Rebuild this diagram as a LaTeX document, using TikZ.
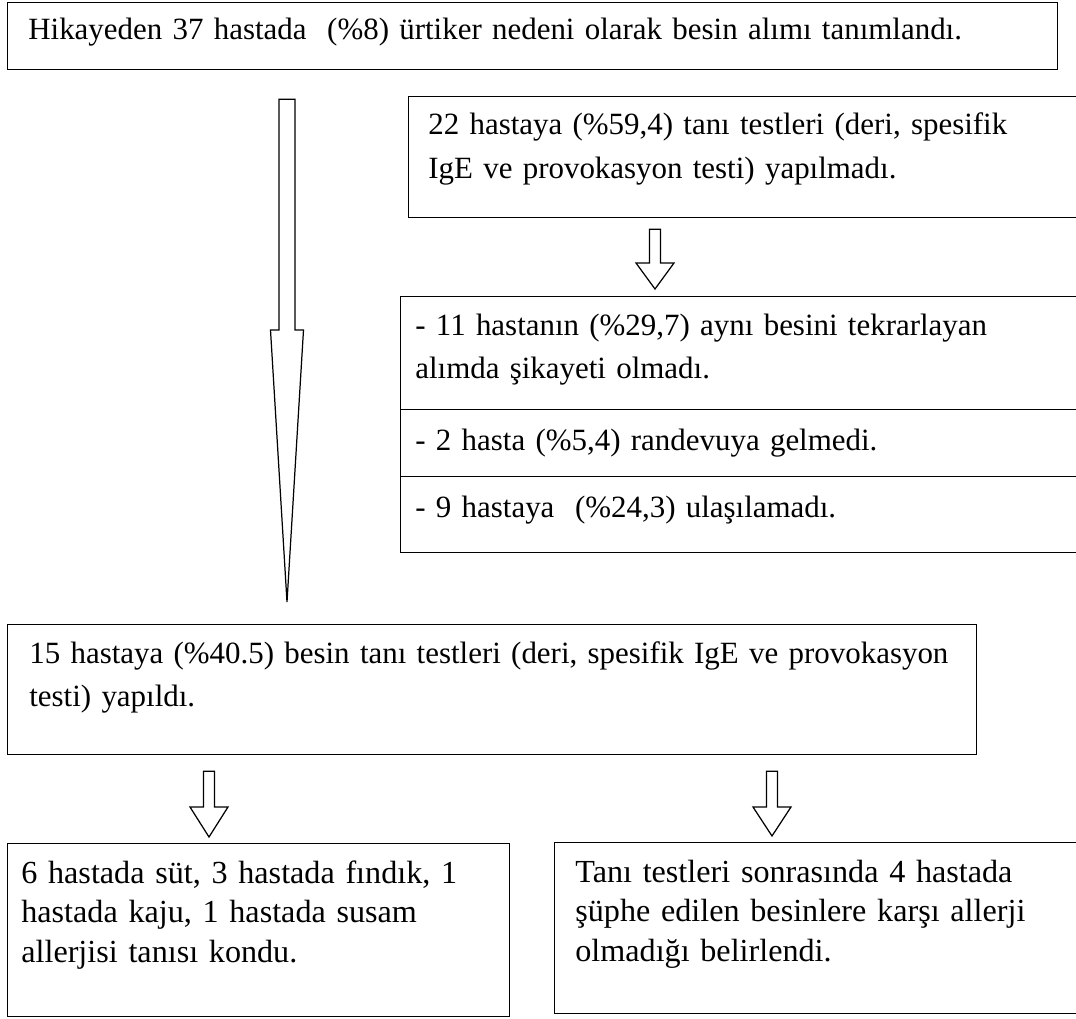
\documentclass[tikz,border=0pt]{standalone}
\usepackage{fontspec}
\setmainfont{Liberation Serif}
\usetikzlibrary{calc, positioning}
\tikzset{
  box/.style={rectangle, draw=black, line width=0.7pt, anchor=north west, inner sep=0pt},
  boxtext/.style={anchor=base west, inner sep=0pt, text width=20cm, align=left,
    font=\fontsize{17.6}{24.5}\selectfont},
  boxtextb/.style={boxtext, font=\fontsize{18.3}{22.5}\selectfont},
  hollow/.style={draw=black, line width=0.7pt, fill=white, line join=miter},
}
% hollow down arrow: top, tip, shaft half width, head half width, head length
\newcommand{\blockarrow}[5]{%
  \draw[hollow] ($(#1)+(-#3,0)$) -- ($(#2)+(-#3,#5)$) -- ($(#2)+(-#4,#5)$) -- (#2)
    -- ($(#2)+(#4,#5)$) -- ($(#2)+(#3,#5)$) -- ($(#1)+(#3,0)$) -- cycle;}

\begin{document}
\begin{tikzpicture}
\useasboundingbox (0,0) rectangle (21.52,-20.38);
\clip (0,0) rectangle (21.52,-20.38);

% boxes
\node[box, minimum width=21cm, minimum height=1.34cm] (hist) at (0.14,-0.04) {};
\node[box, minimum width=13.84cm, minimum height=2.42cm] (notest) at (8.16,-1.92) {};
\node[box, minimum width=14cm, minimum height=2.26cm] (norecur) at (8.00,-5.92) {};
\node[box, minimum width=14cm, minimum height=1.34cm] (noshow) at (8.00,-8.18) {};
\node[box, minimum width=14cm, minimum height=1.52cm] (noreach) at (8.00,-9.52) {};
\node[box, minimum width=19.38cm, minimum height=2.6cm] (tests) at (0.14,-12.48) {};
\node[box, minimum width=10.04cm, minimum height=3.46cm] (allergy) at (0.14,-16.86) {};
\node[box, minimum width=10.92cm, minimum height=3.42cm] (noallergy) at (11.08,-16.84) {};

% texts
\node[boxtext] (histtext) at ([shift={(0.42,-0.76)}]hist.north west)
  {Hikayeden 37 hastada\ \ (\%8) ürtiker nedeni olarak besin alımı tanımlandı.};
\node[boxtext] (notesttext) at ([shift={(0.40,-0.78)}]notest.north west)
  {22 hastaya (\%59,4) tanı testleri (deri, spesifik\\IgE ve provokasyon testi) yapılmadı.};
\node[boxtext] (norecurtext) at ([shift={(0.30,-0.78)}]norecur.north west)
  {- 11 hastanın (\%29,7) aynı besini tekrarlayan\\alımda şikayeti olmadı.};
\node[boxtext] (noshowtext) at ([shift={(0.30,-0.82)}]noshow.north west)
  {- 2 hasta (\%5,4) randevuya gelmedi.};
\node[boxtext] (noreachtext) at ([shift={(0.30,-0.82)}]noreach.north west)
  {- 9 hastaya\ \ (\%24,3) ulaşılamadı.};
\node[boxtext] (teststext) at ([shift={(0.44,-0.78)}]tests.north west)
  {15 hastaya (\%40.5) besin tanı testleri (deri, spesifik IgE ve provokasyon\\testi) yapıldı.};
\node[boxtextb] (allergytext) at ([shift={(0.28,-0.80)}]allergy.north west)
  {6 hastada süt, 3 hastada fındık, 1\\hastada kaju, 1 hastada susam\\allerjisi tanısı kondu.};
\node[boxtextb] (noallergytext) at ([shift={(0.42,-0.80)}]noallergy.north west)
  {Tanı testleri sonrasında 4 hastada\\şüphe edilen besinlere karşı allerji\\olmadığı belirlendi.};

% arrow ends
\coordinate (longtop) at ($(hist.south west)+(5.60,-0.58)$);
\coordinate (longtip) at ($(tests.north west)+(5.60,0.44)$);
\coordinate (a1top) at ($(notest.south west)+(4.94,-0.22)$);
\coordinate (a1tip) at ($(norecur.north west)+(5.10,0.14)$);
\coordinate (a2top) at ($(tests.south west)+(4.04,-0.32)$);
\coordinate (a2tip) at ($(allergy.north west)+(4.04,0.12)$);
\coordinate (a3top) at ($(tests.south west)+(15.30,-0.32)$);
\coordinate (a3tip) at ($(noallergy.north west)+(4.36,0.12)$);

\blockarrow{longtop}{longtip}{0.16}{0.33}{5.44}
\blockarrow{a1top}{a1tip}{0.11}{0.38}{0.52}
\blockarrow{a2top}{a2tip}{0.11}{0.38}{0.60}
\blockarrow{a3top}{a3tip}{0.11}{0.38}{0.58}
\end{tikzpicture}
\end{document}
